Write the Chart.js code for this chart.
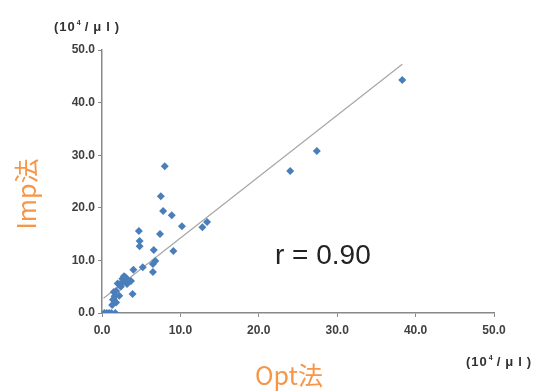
<!DOCTYPE html>
<html>
<head>
<meta charset="utf-8">
<script src="https://cdn.jsdelivr.net/npm/chart.js@4.4.1/dist/chart.umd.min.js"></script>
<style>
  html, body { margin: 0; padding: 0; background: #fff; }
  #wrap { width: 543px; height: 392px; }
</style>
</head>
<body>
<div id="wrap"><canvas id="scatterChart" width="543" height="392"></canvas></div>
<script>
// Opt法 (x) vs Imp法 (y), 10^4/μl
const optValues = [
    38.3, 27.4, 24.0, 13.4, 12.8, 10.2, 9.1, 8.9, 8.0, 7.5, 7.8, 7.4,
    6.6, 6.8, 6.5, 6.5, 5.2, 4.7, 4.8, 4.8, 4.0, 3.7, 3.9,
    3.4, 3.0, 2.8, 2.6, 2.3, 2.0, 2.4, 3.2, 2.8, 1.8, 1.5, 1.4,
    1.8, 1.6, 2.2, 1.3, 1.5,
    0.3, 0.6, 0.9, 1.2, 1.7
];
const impValues = [
    44.3, 30.8, 27.0, 17.3, 16.3, 16.5, 11.8, 18.6, 27.9, 22.2, 19.4, 15.0,
    12.0, 9.9, 9.3, 7.8, 8.7, 15.6, 13.7, 12.7, 8.2, 6.1, 3.6,
    6.2, 6.8, 7.0, 6.5, 5.5, 5.6, 5.0, 5.5, 5.9, 4.2, 4.0, 2.5,
    2.0, 3.2, 3.3, 1.5, 2.6,
    0, 0, 0, 0, 0
];
// regression line (as drawn in the source)
const trendX = [0.2, 38.3];
const trendY = [2.8, 47.3];
const axisTicks = [0, 10, 20, 30, 40, 50];

const orange = '#F79646';
const points = optValues.map((x, i) => ({ x: x, y: impValues[i] }));
const trendPoints = trendX.map((x, i) => ({ x: x, y: trendY[i] }));

// textos extra: unidades, títulos de ejes, coeficiente r
const labelsPlugin = {
    id: 'extraLabels',
    afterDraw: (chart) => {
        const ctx = chart.ctx;
        ctx.save();
        ctx.textBaseline = 'middle';
        // unidades
        ctx.fillStyle = '#303030';
        ctx.textAlign = 'left';
        drawUnit(ctx, 54, 27);
        drawUnit(ctx, 466, 362);
        // coeficiente
        ctx.fillStyle = '#222';
        ctx.font = '28px "Liberation Sans", Arial, sans-serif';
        ctx.textAlign = 'left';
        ctx.fillText('r = 0.90', 275, 256);
        // títulos de ejes
        ctx.fillStyle = orange;
        ctx.font = '25px "Noto Sans CJK JP", sans-serif';
        ctx.textAlign = 'center';
        ctx.fillText('Opt法', 289, 375);
        ctx.translate(26, 194);
        ctx.rotate(-Math.PI / 2);
        ctx.fillText('Imp法', 0, 0);
        ctx.restore();
    }
};

function drawUnit(ctx, x, y) {
    ctx.save();
    ctx.font = 'bold 13px "Liberation Sans", Arial, sans-serif';
    ctx.letterSpacing = '1px';
    ctx.fillText('(10', x, y);
    let w = ctx.measureText('(10').width + 1;
    ctx.font = 'bold 7px "Liberation Sans", Arial, sans-serif';
    ctx.fillText('4', x + w, y - 4);
    w += ctx.measureText('4').width + 3;
    ctx.font = 'bold 13px "Liberation Sans", Arial, sans-serif';
    ctx.letterSpacing = '5px';
    ctx.fillText('/μl)', x + w, y);
    ctx.restore();
}

document.addEventListener('DOMContentLoaded', function() {
    const ctx = document.getElementById('scatterChart').getContext('2d');
    const tickFont = { family: '"Liberation Sans", Arial, sans-serif', size: 12, weight: 'bold' };
    new Chart(ctx, {
        type: 'scatter',
        data: {
            datasets: [{
                label: 'Imp法',
                data: points,
                pointStyle: 'rectRot',
                pointRadius: 4,
                backgroundColor: '#4A7EBB',
                borderColor: '#4A7EBB',
                borderWidth: 0,
                order: 1
            }, {
                type: 'line',
                label: 'trend',
                data: trendPoints,
                borderColor: '#A6A6A6',
                borderWidth: 1.2,
                pointRadius: 0,
                fill: false,
                order: 2
            }]
        },
        options: {
            responsive: false,
            animation: false,
            layout: { padding: { left: 0, top: 50, right: 49, bottom: 0 } },
            plugins: {
                legend: { display: false },
                tooltip: { enabled: false }
            },
            scales: {
                x: {
                    type: 'linear',
                    min: 0,
                    max: 50,
                    afterBuildTicks: (axis) => { axis.ticks = axisTicks.map(v => ({ value: v })); },
                    afterFit: (axis) => { axis.height = 79; },
                    grid: { drawOnChartArea: false, drawTicks: true, tickLength: 4, tickColor: '#888' },
                    border: { display: true, color: '#888', width: 1.5 },
                    ticks: {
                        padding: 6,
                        color: '#404040',
                        font: tickFont,
                        maxRotation: 0,
                        callback: (v) => Number(v).toFixed(1)
                    }
                },
                y: {
                    type: 'linear',
                    min: 0,
                    max: 50,
                    afterBuildTicks: (axis) => { axis.ticks = axisTicks.map(v => ({ value: v })); },
                    afterFit: (axis) => { axis.width = 102; },
                    grid: { drawOnChartArea: false, drawTicks: true, tickLength: 4, tickColor: '#888' },
                    border: { display: true, color: '#888', width: 1.5 },
                    ticks: {
                        padding: 3,
                        color: '#404040',
                        font: tickFont,
                        callback: (v) => Number(v).toFixed(1)
                    }
                }
            }
        },
        plugins: [labelsPlugin]
    });
});
</script>
</body>
</html>
